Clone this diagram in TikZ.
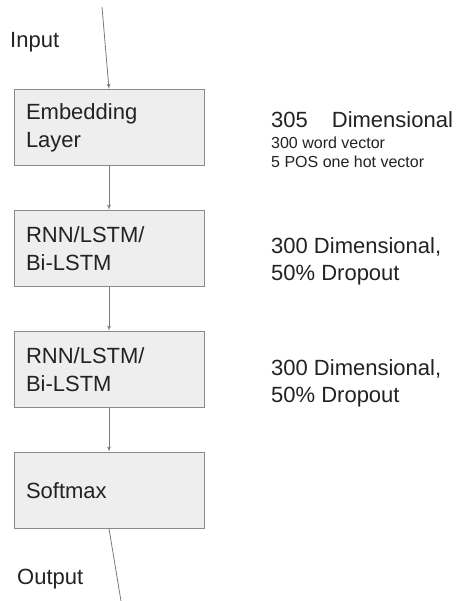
\documentclass[tikz,border=0pt]{standalone}
\usepackage{fontspec}
\setmainfont{Liberation Sans}
\usetikzlibrary{positioning,arrows}
\definecolor{boxfill}{HTML}{EEEEEE}
\definecolor{boxline}{HTML}{8A8A8A}
\definecolor{arrowline}{HTML}{7A7A7A}
\definecolor{inkgray}{HTML}{222222}
\begin{document}
\begin{tikzpicture}[x=1pt, y=-1pt, node distance=44pt, auto]
        % Define block styles
        \tikzstyle{layer} = [rectangle, draw=boxline, fill=boxfill, line width=0.9pt, text=inkgray, text width=166pt, inner xsep=12pt, align=left, minimum width=190pt, minimum height=76pt, font=\fontsize{22}{28}\selectfont]
        \tikzstyle{note} = [anchor=base west, inner sep=0pt, text=inkgray, font=\fontsize{22}{27}\selectfont]
        \tikzstyle{small} = [anchor=base west, inner sep=0pt, text=inkgray, font=\fontsize{16}{19}\selectfont]
        \tikzstyle{line} = [draw=arrowline, line width=0.8pt, -latex']
        \useasboundingbox (0,0) rectangle (460,601);

        % Place nodes
        \node [layer] (embed) at (109,127.5) {Embedding\\Layer};
        \node [layer, below=of embed] (rnn1) {RNN/LSTM/\\Bi-LSTM};
        \node [layer, below=of rnn1] (rnn2) {RNN/LSTM/\\Bi-LSTM};
        \node [layer, below=of rnn2] (soft) {Softmax};

        \coordinate (in) at (102,7);
        \coordinate (out) at (121,601);
        \node [note] (inlabel) at (10,48) {Input};
        \node [note] (outlabel) at (17,584) {Output};

        % Notes on the right
        \node [note] (dim1) at (271,128) {305\hspace{24pt}Dimensional};
        \node [small] (word) at (271,149) {300 word vector};
        \node [small] (pos) at (271,168) {5 POS one hot vector};
        \node [note, align=left, anchor=north west] (dim2) at (271,237) {300 Dimensional,\\50\% Dropout};
        \node [note, align=left, anchor=north west] (dim3) at (271,359) {300 Dimensional,\\50\% Dropout};

        % Draw edges
        \path [line] (in) -- (embed.north);
        \path [line] (embed) -- (rnn1);
        \path [line] (rnn1) -- (rnn2);
        \path [line] (rnn2) -- (soft);
        \draw [draw=arrowline, line width=0.8pt] (soft.south) -- (out);
\end{tikzpicture}
\end{document}
